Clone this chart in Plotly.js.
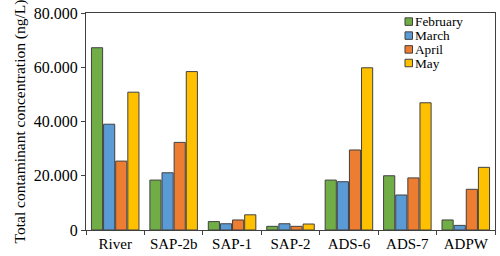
<!DOCTYPE html>
<html><head><meta charset="utf-8">
<script src="https://cdn.plot.ly/plotly-3.0.1.min.js"></script>
<style>body{margin:0;padding:0;background:#fff}#chart{width:500px;height:256px}</style>
</head><body><div id="chart"></div>
<script>
const categories = ["River","SAP-2b","SAP-1","SAP-2","ADS-6","ADS-7","ADPW"];
const february = [67200, 18400, 3100, 1350, 18400, 20000, 3700];
const march    = [39000, 21100, 2300, 2300, 17800, 12900, 1700];
const april    = [25400, 32300, 3700, 1350, 29500, 19200, 15000];
const may      = [50800, 58400, 5600, 2200, 59800, 46900, 23100];
const seriesNames = ["February","March","April","May"];
const colors = ["#70AD47","#5B9BD5","#ED7D31","#FFC000"];
const seriesData = [february, march, april, may];

const FONT = "'Liberation Serif', 'Times New Roman', Times, serif";

const traces = seriesData.map((vals, i) => ({
  type: "bar", x: categories, y: vals, name: seriesNames[i],
  marker: {color: colors[i], line: {color: "#404040", width: 1}}
}));

// compact legend (drawn in paper coordinates)
const W = 500, H = 256, mL = 86, mR = 5, mT = 13, mB = 26;
const pw = W - mL - mR, ph = H - mT - mB;
const px = x => (x - mL) / pw;
const py = y => 1 - (y - mT) / ph;
const legendRows = [21.6, 35.6, 49.4, 63.0];
const shapes = [], annotations = [];
seriesNames.forEach((n, i) => {
  const cy = legendRows[i];
  shapes.push({type: "rect", xref: "paper", yref: "paper",
    x0: px(405), x1: px(412.5), y0: py(cy + 3.75), y1: py(cy - 3.75),
    fillcolor: colors[i], line: {color: "#404040", width: 1}});
  annotations.push({xref: "paper", yref: "paper", x: px(414), y: py(cy),
    xanchor: "left", yanchor: "middle", text: n, showarrow: false, borderpad: 0,
    font: {size: 13.3, family: FONT, color: "#000"}});
});

const layout = {
  width: W, height: H,
  margin: {l: mL, r: mR, t: mT, b: mB},
  separators: ",.",
  barmode: "group", bargap: 0.17, bargroupgap: 0.08,
  paper_bgcolor: "#fff", plot_bgcolor: "#fff",
  font: {family: FONT, color: "#000"},
  showlegend: false,
  shapes: shapes, annotations: annotations,
  xaxis: {type: "category", showline: true, linecolor: "#404040", linewidth: 1, mirror: true,
    ticks: "outside", tickson: "boundaries", ticklen: 4, tickcolor: "#404040",
    tickfont: {size: 15, family: FONT}, showgrid: false},
  yaxis: {range: [0, 80000], tickvals: [0,20000,40000,60000,80000], tickformat: ",d",
    showline: true, linecolor: "#404040", linewidth: 1, mirror: true,
    ticks: "outside", ticklen: 4, tickcolor: "#404040",
    showgrid: false, zeroline: false, tickfont: {size: 16, family: FONT},
    title: {text: "Total contaminant concentration (ng/L)", font: {size: 15.5, family: FONT}, standoff: 4}}
};
Plotly.newPlot("chart", traces, layout, {displayModeBar: false, staticPlot: true});
</script></body></html>
